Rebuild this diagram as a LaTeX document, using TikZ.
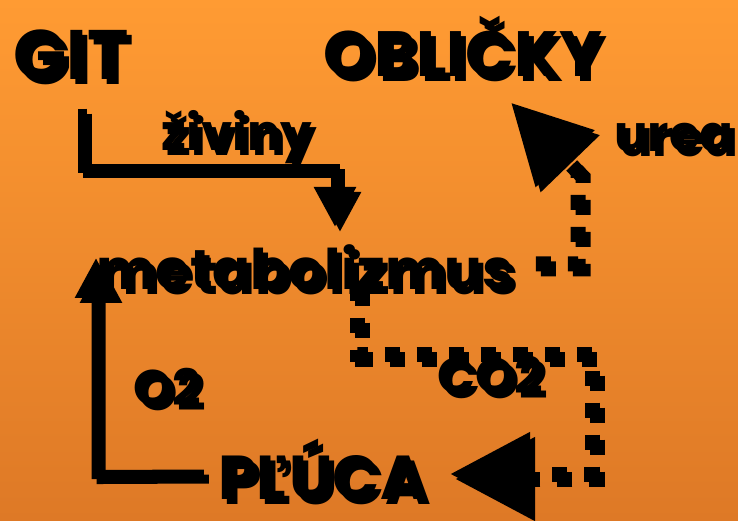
\documentclass[tikz,border=0pt]{standalone}
\usepackage{fontspec}
\setmainfont{Poppins}
\usetikzlibrary{arrows.meta,calc}

\definecolor{orangetop}{RGB}{255,155,51}
\definecolor{orangebot}{RGB}{222,121,38}

\begin{document}
\begin{tikzpicture}[x=1pt,y=-1pt,
    word/.style={font=\bfseries\fontsize{#1}{#1}\selectfont, inner sep=0pt},
    flow/.style={line width=9pt},
    dotflow/.style={line width=15pt, dash pattern=on 15pt off 17pt},
    bigtip/.style={-{Triangle[length=#1,width=#1]}}]
    \useasboundingbox (0,0) rectangle (738,520);
    \shade[top color=orangetop, bottom color=orangebot] (0,0) rectangle (738,520);

    % everything twice: shadow first, then the black copy on top
    \foreach \s in {5,0} {
    \begin{scope}[shift={(\s,\s)}]
        % organs
        \node[word=70, anchor=base] (git) at (71,79) {GIT};
        \node[word=64, anchor=base] (oblicky) at (463,76) {OBLIČKY};
        \node[word=56, anchor=base] (metab) at (305,289) {metabolizmus};
        \node[word=62, anchor=base] (pluca) at (322,499) {PĽÚCA};

        % substances
        \node[word=50, anchor=base] (ziviny) at (237,150) {živiny};
        \node[word=50, anchor=base] (urea) at (674,151) {urea};
        \node[word=50, anchor=base] (o2) at (167,405) {O2};
        \node[word=50, anchor=base] (co2) at (490,393) {CO2};

        % bends
        \coordinate (b1) at (335,168);
        \coordinate (b2) at (578,172);
        \coordinate (b3) at (592,354);
        \coordinate (b4) at (96,474.5);

        % GIT -> metabolizmus
        \draw[flow, bigtip=40pt] ($(git.south)+(11,29)$) |- (b1)
            -- ($(b1 |- metab.north)+(0,-17)$);
        % metabolizmus -> OBLICKY
        \draw[dotflow, bigtip=78pt] ($(metab.east)+(22,-3)$) -| (b2)
            -- ($(oblicky.south)+(48,26)$);
        % metabolizmus -> PLUCA
        \draw[dotflow, bigtip=80pt] ($(metab.south)+(52,-4)$) |- (b3)
            |- ($(pluca.base east)+(24,-25)$);
        % PLUCA -> metabolizmus
        \draw[flow, bigtip=40pt] ($(pluca.base west)+(-14,-25)$) -- (b4)
            -- ($(b4 |- metab.north)+(0,14)$);
    \end{scope}
    }
\end{tikzpicture}
\end{document}
